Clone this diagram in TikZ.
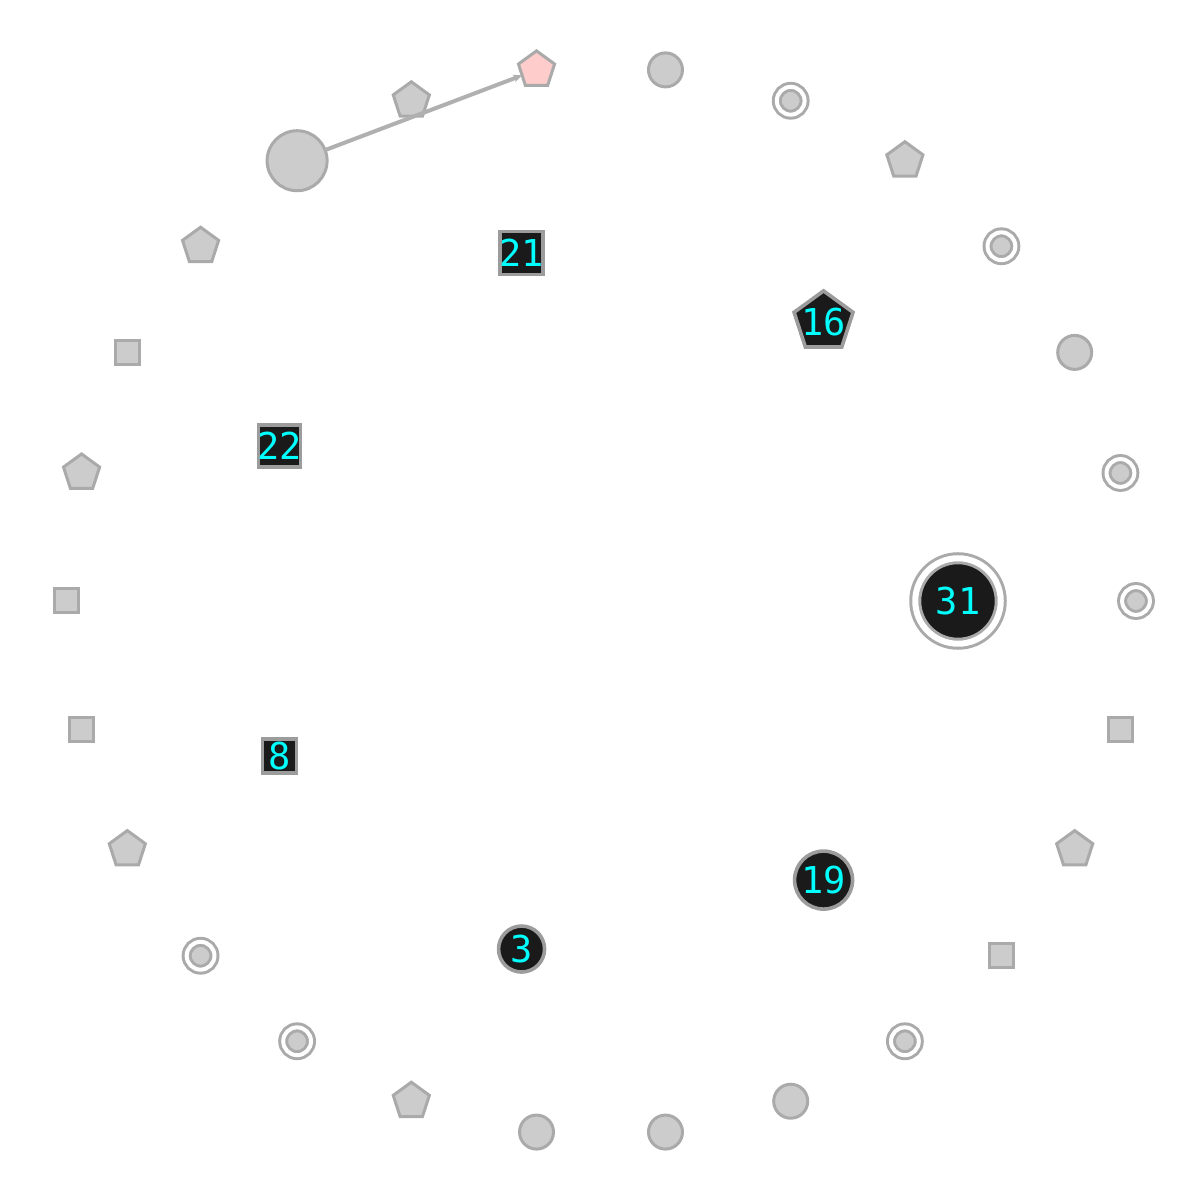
\documentclass[tikz,border=0pt]{standalone}
\usepackage{fontspec}
\newfontfamily\dmono{DejaVu Sans Mono}
\usetikzlibrary{shapes.geometric,arrows.meta}
\definecolor{nfill}{HTML}{CCCCCC}
\definecolor{nline}{HTML}{AAAAAA}
\definecolor{dfill}{HTML}{1A1A1A}
\definecolor{dline}{HTML}{9C9C9C}
\definecolor{pinkfill}{HTML}{FFCCCC}
\definecolor{cyantext}{HTML}{00FFFF}
\definecolor{edgecol}{HTML}{B0B0B0}
\begin{document}
\begin{tikzpicture}[x=1pt,y=1pt,
  base/.style={draw=nline,line width=3pt,fill=nfill,inner sep=0pt,outer sep=0pt},
  pent/.style={base,regular polygon,regular polygon sides=5,minimum size=38pt},
  pinkpent/.style={pent,fill=pinkfill},
  circ/.style={base,circle,minimum size=34pt},
  bigcirc/.style={base,circle,minimum size=60pt},
  sq/.style={base,rectangle,minimum size=24pt},
  dbl/.style={base,circle,minimum size=27.8pt,double=white,double distance=4pt},
  dtext/.style={text=cyantext,font=\dmono\fontsize{37}{40}\selectfont,inner sep=0pt},
  dark/.style={draw=dline,line width=3.6pt,fill=dfill,inner sep=0pt,outer sep=0pt},
  dsq/.style={dark,rectangle},
  dcirc/.style={dark,circle},
  dpent/.style={dark,regular polygon,regular polygon sides=5},
  ddbl/.style={dark,circle,minimum size=85.5pt,double=white,double distance=6pt,draw=nline,line width=3pt},
  edge/.style={draw=edgecol,line width=4pt,-{Stealth[length=9pt,width=8pt]}}
]
\useasboundingbox (0,0) rectangle (1200,1200);
\begin{scope}[shift={(601,599)}]
% outer ring
\node[pinkpent] (o0) at (96.923:535) {};
\node[pent] (o1) at (110.769:535) {};
\node[bigcirc] (o2) at (124.615:535) {};
\node[pent] (o3) at (138.462:535) {};
\node[sq] (o4) at (152.308:535) {};
\node[pent] (o5) at (166.154:535) {};
\node[sq] (o6) at (180.000:535) {};
\node[sq] (o7) at (193.846:535) {};
\node[pent] (o8) at (207.692:535) {};
\node[dbl] (o9) at (221.538:535) {};
\node[dbl] (o10) at (235.385:535) {};
\node[pent] (o11) at (249.231:535) {};
\node[circ] (o12) at (263.077:535) {};
\node[circ] (o13) at (276.923:535) {};
\node[circ] (o14) at (290.769:535) {};
\node[dbl] (o15) at (304.615:535) {};
\node[sq] (o16) at (318.462:535) {};
\node[pent] (o17) at (332.308:535) {};
\node[sq] (o18) at (346.154:535) {};
\node[dbl] (o19) at (0.000:535) {};
\node[dbl] (o20) at (13.846:535) {};
\node[circ] (o21) at (27.692:535) {};
\node[dbl] (o22) at (41.538:535) {};
\node[pent] (o23) at (55.385:535) {};
\node[dbl] (o24) at (69.231:535) {};
\node[circ] (o25) at (83.077:535) {};
% inner ring
\node[ddbl,label={[dtext]center:31}] (n31) at (0:357) {};
\node[dpent,minimum size=62pt,label={[dtext]center:16}] (n16) at (51.429:357) {};
\node[dsq,minimum size=43pt,label={[dtext]center:21}] (n21) at (102.857:357) {};
\node[dsq,minimum size=42pt,label={[dtext]center:22}] (n22) at (154.286:357) {};
\node[dsq,minimum size=34pt,label={[dtext]center:8}] (n8) at (205.714:357) {};
\node[dcirc,minimum size=46pt,label={[dtext]center:3}] (n3) at (257.143:357) {};
\node[dcirc,minimum size=58pt,label={[dtext]center:19}] (n19) at (308.571:357) {};
\end{scope}
\draw[edge] (o2) -- (o0);
\end{tikzpicture}
\end{document}
